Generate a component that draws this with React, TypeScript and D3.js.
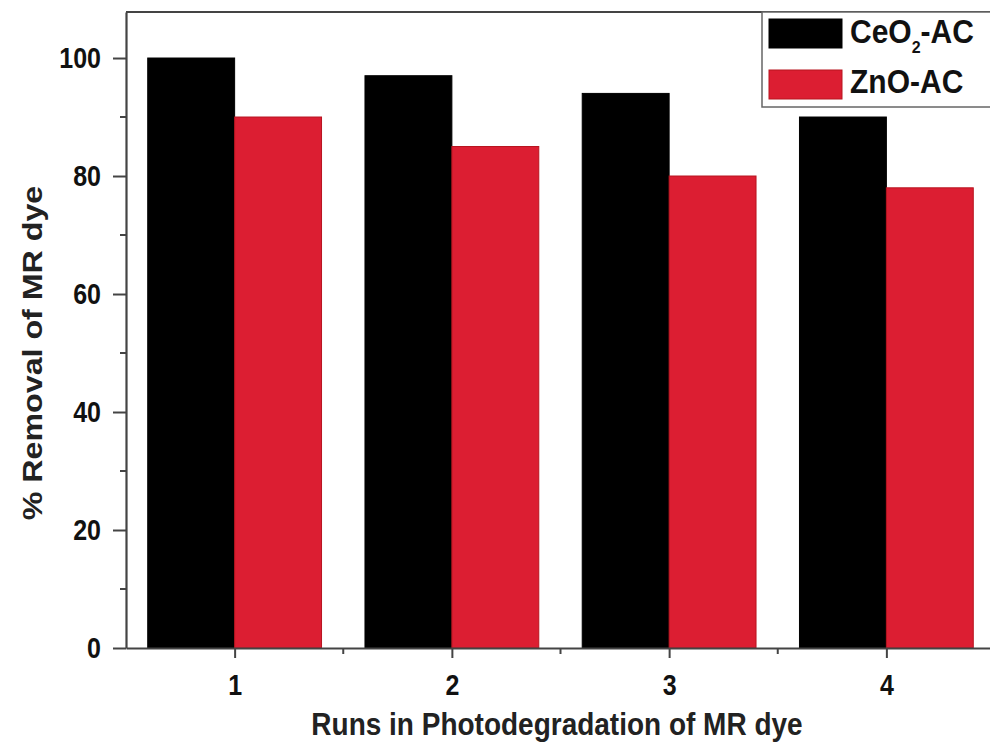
import React, { useEffect, useRef } from "react";
import * as d3 from "d3";

const runs = [1, 2, 3, 4];
const ceo2 = [100, 97, 94, 90];
const zno = [90, 85, 80, 78];
const yTicks = [0, 20, 40, 60, 80, 100];
const seriesNames = ["CeO2-AC", "ZnO-AC"];
const seriesColors = ["#000000", "#dc1e32"];

function App() {
    const chart = useRef<SVGSVGElement>(null);

    useEffect(() => {
        const width = 990;
        const height = 746;
        const margin = { top: 12, right: -5, bottom: 98, left: 126 };
        const stretch = 1.15; // the figure is taller than its fonts
        const svg = d3.select(chart.current)
            .attr("width", width)
            .attr("height", height);
        svg.selectAll("*").remove();

        const x = d3.scaleLinear().domain([0.5, 4.5]).range([margin.left, width - margin.right]);
        const y = d3.scaleLinear().domain([0, 107.8]).range([height - margin.bottom, margin.top]);
        const font = "'Liberation Sans', Arial, sans-serif";
        const barW = 0.4;

        // bars
        const groups = [ceo2, zno];
        groups.forEach((vals, s) => {
            svg.append("g").selectAll("rect")
                .data(vals)
                .enter()
                .append("rect")
                .attr("x", (d, i) => x(runs[i] - barW + s * barW))
                .attr("width", x(barW) - x(0))
                .attr("y", d => y(d))
                .attr("height", d => y(0) - y(d))
                .attr("fill", seriesColors[s])
                .attr("stroke", s === 0 ? "#000" : "#b8141f")
                .attr("stroke-width", 1);
        });

        // frame top
        svg.append("line")
            .attr("x1", x(0.5)).attr("x2", width)
            .attr("y1", y(107.8)).attr("y2", y(107.8))
            .attr("stroke", "#444").attr("stroke-width", 2);

        // y axis
        const yAxis = svg.append("g")
            .attr("transform", `translate(${x(0.5)},0)`)
            .call(d3.axisLeft(y).tickValues(yTicks).tickSize(13).tickSizeOuter(0).tickPadding(12));
        yAxis.select(".domain").attr("stroke", "#444").attr("stroke-width", 2.2);
        yAxis.selectAll(".tick line").attr("stroke", "#444").attr("stroke-width", 2);
        yAxis.selectAll(".tick text")
            .attr("font-family", font).attr("font-weight", "bold")
            .attr("font-size", 25).attr("fill", "#111")
            .attr("dy", "0.34em")
            .attr("transform", `scale(1,${stretch})`);
        yAxis.selectAll(".minor")
            .data(d3.range(10, 110, 20))
            .enter()
            .append("line")
            .attr("class", "minor")
            .attr("x1", -6).attr("x2", 0)
            .attr("y1", d => y(d)).attr("y2", d => y(d))
            .attr("stroke", "#444").attr("stroke-width", 2);

        // x axis
        const xAxis = svg.append("g")
            .attr("transform", `translate(0,${y(0)})`)
            .call(d3.axisBottom(x).tickValues(runs).tickFormat(d3.format("d")).tickSize(10).tickSizeOuter(0));
        xAxis.select(".domain").attr("stroke", "#444").attr("stroke-width", 2.2);
        xAxis.selectAll(".tick line").attr("stroke", "#444").attr("stroke-width", 2);
        xAxis.selectAll(".tick text")
            .attr("font-family", font).attr("font-weight", "bold")
            .attr("font-size", 25).attr("fill", "#111")
            .attr("y", 0).attr("dy", 0)
            .attr("transform", `translate(0,47) scale(1,${stretch})`);
        xAxis.selectAll(".minor")
            .data([1.5, 2.5, 3.5, 4.5])
            .enter()
            .append("line")
            .attr("class", "minor")
            .attr("x1", d => x(d)).attr("x2", d => x(d))
            .attr("y1", 0).attr("y2", 6)
            .attr("stroke", "#444").attr("stroke-width", 2);

        // axis titles
        svg.append("text")
            .attr("transform", `translate(557,735) scale(1,${stretch})`)
            .attr("text-anchor", "middle")
            .attr("font-family", font).attr("font-weight", "bold")
            .attr("font-size", 28).attr("fill", "#222")
            .text("Runs in Photodegradation of MR dye");
        svg.append("text")
            .attr("transform", `translate(42,353) rotate(-90) scale(${stretch},1)`)
            .attr("text-anchor", "middle")
            .attr("font-family", font).attr("font-weight", "bold")
            .attr("font-size", 28).attr("fill", "#222")
            .text("% Removal of MR dye");

        // legend
        const lg = svg.append("g");
        lg.append("rect")
            .attr("x", 762).attr("y", 12)
            .attr("width", 240).attr("height", 95)
            .attr("fill", "#fff").attr("stroke", "#666").attr("stroke-width", 1.5);
        seriesNames.forEach((name, i) => {
            lg.append("rect")
                .attr("x", 769).attr("y", 19 + i * 51)
                .attr("width", 73).attr("height", 29)
                .attr("fill", seriesColors[i])
                .attr("stroke", i === 0 ? "#000" : "#b8141f");
            const t = lg.append("text")
                .attr("transform", `translate(850,${43 + i * 50}) scale(1,1.08)`)
                .attr("font-family", font).attr("font-weight", "bold")
                .attr("font-size", 30).attr("fill", "#111");
            if (i === 0) {
                t.append("tspan").text("CeO");
                t.append("tspan").attr("font-size", 16).attr("dy", 9).text("2");
                t.append("tspan").attr("dy", -9).text("-AC");
            } else {
                t.text(name);
            }
        });

        return () => {
            svg.selectAll("*").remove();
        };
    }, []);

    return <svg ref={chart} style={{ position: "absolute", left: 0, top: 0 }}></svg>;
}

export default App;
